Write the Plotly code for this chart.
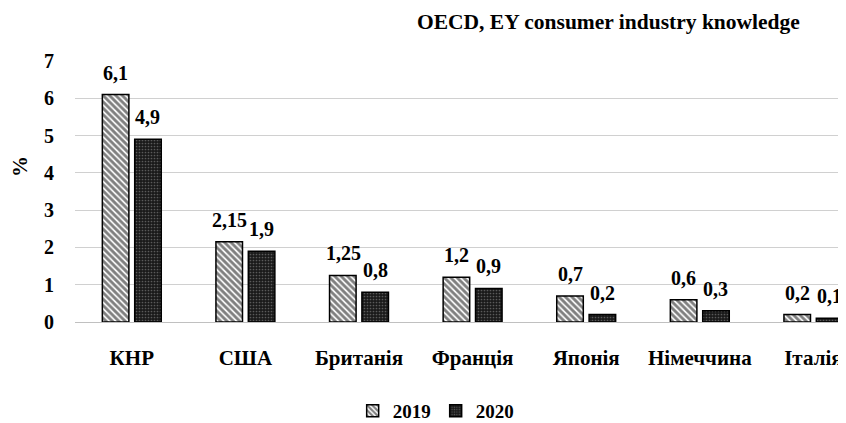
import plotly.graph_objects as go

categories = ["КНР", "США", "Британія", "Франція", "Японія", "Німеччина", "Італія"]
values_2019 = [6.1, 2.15, 1.25, 1.2, 0.7, 0.6, 0.2]
values_2020 = [4.9, 1.9, 0.8, 0.9, 0.2, 0.3, 0.1]
labels_2019 = ["6,1", "2,15", "1,25", "1,2", "0,7", "0,6", "0,2"]
labels_2020 = ["4,9", "1,9", "0,8", "0,9", "0,2", "0,3", "0,1"]
y_ticks = [0, 1, 2, 3, 4, 5, 6, 7]

FONT = "Liberation Serif, Times New Roman, serif"
STEP = 113.6  # px per category

fig = go.Figure()
fig.add_trace(go.Bar(
    name="2019", x=categories, y=values_2019,
    marker=dict(color="white", line=dict(color="black", width=1.5),
                pattern=dict(shape="\\", fgcolor="black", bgcolor="white", size=4.5, solidity=0.62)),
))
fig.add_trace(go.Bar(
    name="2020", x=categories, y=values_2020,
    marker=dict(color="#1a1a1a", line=dict(color="black", width=1.5),
                pattern=dict(shape=".", fgcolor="#9a9a9a", bgcolor="#1a1a1a", size=3, solidity=0.25)),
))

for series, labels, dx in ((values_2019, labels_2019, -16), (values_2020, labels_2020, 16)):
    for c, v, t in zip(categories, series, labels):
        fig.add_annotation(x=c, y=v, text=t, showarrow=False, xshift=dx, yshift=9,
                           yanchor="bottom", xanchor="center",
                           font=dict(family=FONT, size=20, color="black", weight="bold"))

fig.add_annotation(text="%", xref="paper", yref="paper", x=-(67 - 12) / (846 - 67),
                   y=(314 - 159) / 261, showarrow=False, textangle=-90,
                   xanchor="center", yanchor="middle",
                   font=dict(family=FONT, size=21, color="black", weight="bold"))

fig.update_layout(
    width=846, height=423,
    margin=dict(l=67, r=0, t=53, b=109, autoexpand=False),
    paper_bgcolor="white", plot_bgcolor="white",
    barmode="group", bargap=0.43, bargroupgap=0.18,
    font=dict(family=FONT, color="black"),
    showlegend=True,
    legend=dict(orientation="h", x=0.463, xref="paper", xanchor="center",
                y=-0.268, yanchor="top",
                font=dict(family=FONT, size=19, color="black", weight="bold"),
                itemwidth=30, traceorder="normal"),
    title=dict(text="OECD, EY consumer industry knowledge",
               x=0.936, xanchor="right", xref="container",
               y=0.967, yanchor="middle", yref="container",
               font=dict(family=FONT, size=21.5, color="black", weight="bold")),
)
fig.update_xaxes(
    range=[-0.5, -0.5 + (846 - 67) / STEP], automargin=False,
    showgrid=False, showline=False, zeroline=False,
    ticks="", ticklabelstandoff=21,
    tickfont=dict(family=FONT, size=21, color="black", weight="bold"),
)
fig.update_yaxes(
    range=[0, 7], tickvals=y_ticks, automargin=False,
    showgrid=True, gridcolor="#d0d0d0", gridwidth=1,
    zeroline=True, zerolinecolor="#c0c0c0", zerolinewidth=1,
    showline=False, ticks="", ticklabelstandoff=20,
    tickfont=dict(family=FONT, size=20, color="black", weight="bold"),
)

fig.write_html("out.html")
